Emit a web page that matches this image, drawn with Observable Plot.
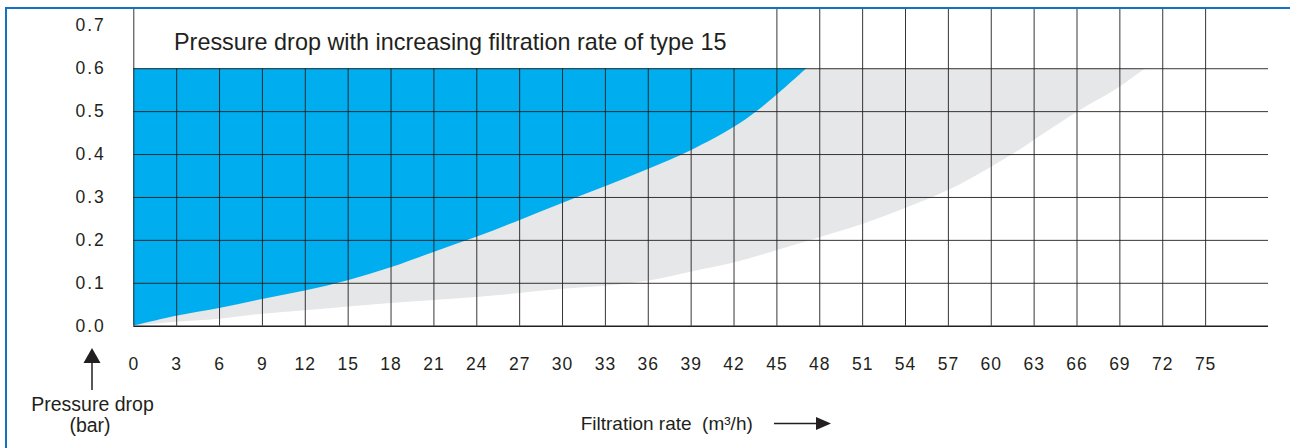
<!DOCTYPE html>
<html>
<head>
<meta charset="utf-8">
<script src="https://cdn.jsdelivr.net/npm/d3@7"></script>
<script src="https://cdn.jsdelivr.net/npm/@observablehq/plot@0.6"></script>
<style>
  body { margin: 0; background: #fff; }
  #chart svg { display: block; }
  g[aria-label="y-axis tick label"] text { letter-spacing: 2px; }
  g[aria-label="x-axis tick label"] text { letter-spacing: 1px; }
</style>
</head>
<body>
<div id="chart"></div>
<script>
// ---- data ----
const title = "Pressure drop with increasing filtration rate of type 15";
const yAxisLabel = ["Pressure drop", "(bar)"];
const xAxisLabel = "Filtration rate  (m³/h)";

const xTicks = [0, 3, 6, 9, 12, 15, 18, 21, 24, 27, 30, 33, 36, 39, 42, 45, 48, 51, 54, 57, 60, 63, 66, 69, 72, 75];
const yTicks = [0.0, 0.1, 0.2, 0.3, 0.4, 0.5, 0.6, 0.7];
const yTickLabels = ["0.0", "0.1", "0.2", "0.3", "0.4", "0.5", "0.6", "0.7"];
const yGrid = [0.1, 0.2, 0.3, 0.4, 0.5, 0.6];

// upper (blue) limit curve
const blueRate = [0, 3, 6, 9, 12, 15, 18, 21, 24, 27, 30, 33, 36, 39, 42, 43.6, 45, 47.1];
const bluePressure = [0, 0.023, 0.041, 0.062, 0.082, 0.106, 0.136, 0.172, 0.207, 0.246, 0.286, 0.325, 0.365, 0.409, 0.463, 0.5, 0.538, 0.6];

// lower (grey) limit curve
const greyRate = [0, 3, 6, 9, 12, 15, 18, 21, 24, 27, 30, 33, 36, 39, 42, 45, 48, 51, 54, 57, 60, 62, 63, 66.1, 69, 70.8];
const greyPressure = [0, 0.009, 0.016, 0.028, 0.036, 0.045, 0.053, 0.06, 0.067, 0.076, 0.086, 0.093, 0.105, 0.126, 0.147, 0.176, 0.206, 0.237, 0.274, 0.316, 0.37, 0.41, 0.433, 0.5, 0.557, 0.6];

const X_MAX = 79.4;   // right end of horizontal grid lines
const Y_MAX = 0.738;  // top of the grid (border)
const Y_CAP = 0.6;    // top of the filled region
const BOX_END = 45;   // title box covers x < 45 above 0.6

const blue = blueRate.map((x, i) => ({x, y: bluePressure[i]}));
const grey = greyRate.map((x, i) => ({x, y: greyPressure[i]}));

const ink = "#231f20";
const font = "'Liberation Sans', Arial, Helvetica, sans-serif";

const svg = Plot.plot({
  width: 1290,
  height: 448,
  marginLeft: 133.3,
  marginRight: 22,
  marginTop: 9,
  marginBottom: 122.3,
  style: {fontFamily: font, color: ink, background: "#fff", overflow: "visible"},
  x: {domain: [0, X_MAX]},
  y: {domain: [0, Y_MAX]},
  marks: [
    Plot.areaY(grey, {x: "x", y1: "y", y2: () => Y_CAP, fill: "#e6e7e8", curve: "catmull-rom"}),
    Plot.areaY(blue, {x: "x", y1: "y", y2: () => Y_CAP, fill: "#00adee", curve: "catmull-rom"}),
    Plot.ruleY(yGrid, {x1: 0, x2: X_MAX, stroke: ink, strokeWidth: 1, strokeOpacity: 0.9}),
    Plot.ruleX(xTicks, {y1: 0, y2: d => (d === 0 || d >= BOX_END) ? Y_MAX : Y_CAP, stroke: ink, strokeWidth: 1, strokeOpacity: 0.9}),
    Plot.ruleY([0], {x1: 0, x2: X_MAX, stroke: ink, strokeWidth: 1.6}),
    Plot.axisX(xTicks, {anchor: "bottom", tickSize: 0, tickPadding: 31, fontSize: 17.5, label: null, fill: ink}),
    Plot.axisY(yTicks, {anchor: "left", tickSize: 0, tickPadding: 28, fontSize: 17.5, label: null, fill: ink,
      tickFormat: d => yTickLabels[yTicks.indexOf(d)]})
  ]
});

const s = d3.select(svg);
// blue frame (top and left)
s.append("line").attr("x1", 6).attr("x2", 1290).attr("y1", 8).attr("y2", 8)
  .attr("stroke", "#1273c3").attr("stroke-width", 2);
s.append("line").attr("x1", 6).attr("x2", 6).attr("y1", 7).attr("y2", 448)
  .attr("stroke", "#1273c3").attr("stroke-width", 2);

// title
s.append("text").attr("x", 174).attr("y", 50).attr("text-anchor", "start").text(title)
  .attr("font-size", 23.4).attr("fill", ink).attr("font-family", font);

// y-axis label with upward arrow
s.append("path").attr("d", "M92,348 L100.5,363 L83.5,363 Z").attr("fill", ink);
s.append("line").attr("x1", 92).attr("x2", 92).attr("y1", 362).attr("y2", 390)
  .attr("stroke", ink).attr("stroke-width", 1.5);
s.append("text").attr("x", 92.5).attr("y", 411).attr("text-anchor", "middle")
  .attr("font-size", 19.5).attr("fill", ink).attr("font-family", font).text(yAxisLabel[0]);
s.append("text").attr("x", 90).attr("y", 432).attr("text-anchor", "middle")
  .attr("font-size", 19.5).attr("fill", ink).attr("font-family", font).text(yAxisLabel[1]);

// x-axis label with right arrow
s.append("text").attr("x", 580.7).attr("y", 429.5).attr("text-anchor", "start")
  .attr("font-size", 19).attr("fill", ink).attr("font-family", font).text(xAxisLabel);
s.append("line").attr("x1", 774).attr("x2", 818).attr("y1", 423.5).attr("y2", 423.5)
  .attr("stroke", ink).attr("stroke-width", 1.5);
s.append("path").attr("d", "M831,423.5 L816,417 L816,430 Z").attr("fill", ink);

document.getElementById("chart").appendChild(svg);
</script>
</body>
</html>
